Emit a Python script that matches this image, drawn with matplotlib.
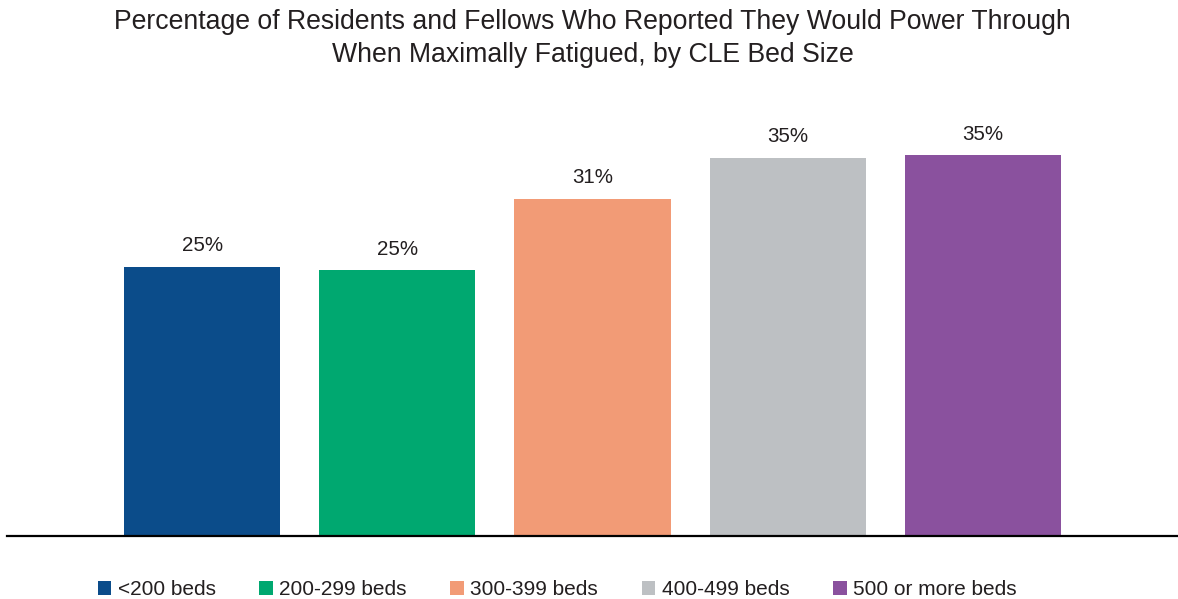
import matplotlib.pyplot as plt

plt.rcParams["font.family"] = ["Liberation Sans", "DejaVu Sans"]

# bed-size groups and the share who would power through
categories = ["<200 beds", "200-299 beds", "300-399 beds", "400-499 beds", "500 or more beds"]
values = [24.9, 24.6, 31.2, 35.0, 35.2]
colors = ["#0B4C8A", "#00A870", "#F29B76", "#BDC0C3", "#8A519E"]

text_color = "#231F20"

fig = plt.figure(figsize=(11.78, 5.99), dpi=100)
ax = fig.add_axes([7 / 1178, 0.106, 1171 / 1178, 0.7212])

x = range(len(categories))
bars = ax.bar(x, values, width=0.8, color=colors, label=categories)

for b, v in zip(bars, values):
    ax.annotate(f"{v:.0f}%", (b.get_x() + b.get_width() / 2, v),
                xytext=(0, 11), textcoords="offset points",
                ha="center", va="baseline", fontsize=14.8, color=text_color)

ax.set_xlim(-1, 5)
ax.set_ylim(0, 40)
ax.set_xticks([])
ax.set_yticks([])
for side in ["top", "left", "right"]:
    ax.spines[side].set_visible(False)
ax.spines["bottom"].set_linewidth(1.6)
ax.spines["bottom"].set_color("black")

fig.text(0.503, 0.936, "Percentage of Residents and Fellows Who Reported They Would Power Through\n"
         "When Maximally Fatigued, by CLE Bed Size",
         ha="center", va="center", fontsize=19.2, color=text_color, linespacing=1.38)

leg = fig.legend(handles=list(bars), labels=categories, loc="center",
                 bbox_to_anchor=(0.473, 0.016), ncol=5, frameon=False,
                 fontsize=15, handlelength=0.65, handleheight=0.65,
                 handletextpad=0.3, columnspacing=2.1)
for t in leg.get_texts():
    t.set_color(text_color)

fig.savefig("out.png", dpi=100)
